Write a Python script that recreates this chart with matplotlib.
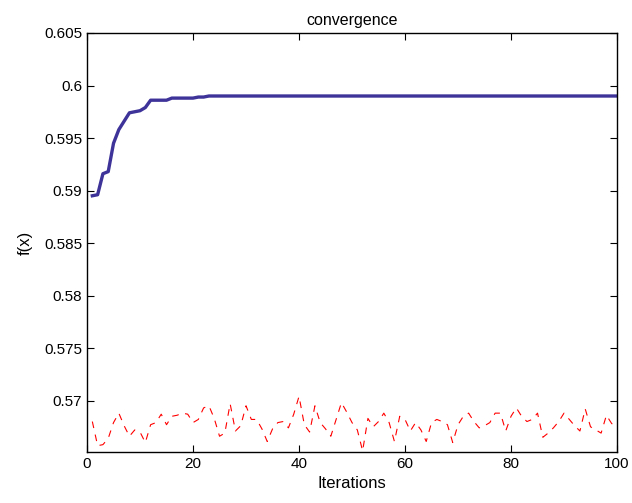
import numpy as np
import matplotlib
matplotlib.use('Agg')
import matplotlib.pyplot as plt

plt.rcParams['font.family'] = ['Liberation Sans', 'DejaVu Sans']

iterations = np.arange(1, 101)

# best f(x) found so far
best_head = [0.5895, 0.5896, 0.5916, 0.5918, 0.5945, 0.5958, 0.5966, 0.5974,
             0.5975, 0.5976, 0.5979, 0.5986, 0.5986, 0.5986, 0.5986, 0.5988,
             0.5988, 0.5988, 0.5988, 0.5988, 0.5989, 0.5989]
best_tail = [0.5990] * 78
best_fx = best_head + best_tail

# mean f(x) of the population per iteration
mean_fx = [0.5680, 0.5657, 0.5658, 0.5664, 0.5679, 0.5688, 0.5676, 0.5666, 0.5672, 0.5670,
           0.5660, 0.5677, 0.5679, 0.5687, 0.5677, 0.5685, 0.5686, 0.5688, 0.5687, 0.5679,
           0.5682, 0.5693, 0.5695, 0.5683, 0.5666, 0.5669, 0.5697, 0.5671, 0.5676, 0.5695,
           0.5682, 0.5682, 0.5673, 0.5661, 0.5673, 0.5679, 0.5680, 0.5674, 0.5687, 0.5704,
           0.5677, 0.5670, 0.5695, 0.5679, 0.5673, 0.5666, 0.5682, 0.5698, 0.5689, 0.5679,
           0.5672, 0.5652, 0.5683, 0.5675, 0.5680, 0.5688, 0.5679, 0.5661, 0.5685, 0.5682,
           0.5671, 0.5679, 0.5672, 0.5661, 0.5679, 0.5682, 0.5680, 0.5677, 0.5660, 0.5677,
           0.5685, 0.5688, 0.5680, 0.5674, 0.5676, 0.5679, 0.5688, 0.5688, 0.5671, 0.5685,
           0.5693, 0.5685, 0.5680, 0.5682, 0.5688, 0.5665, 0.5669, 0.5674, 0.5680, 0.5688,
           0.5682, 0.5676, 0.5671, 0.5692, 0.5675, 0.5672, 0.5669, 0.5686, 0.5678, 0.5676]

fig = plt.figure(figsize=(6.32, 5.03), dpi=100)
ax = fig.add_axes([0.1377, 0.1014, 0.8386, 0.8330])

ax.plot(iterations, mean_fx, color='red', lw=0.8, linestyle=(0, (6, 6)))
ax.plot(iterations, best_fx, color='#3d3399', lw=2.4)

ax.set_xlim(0, 100)
ax.set_ylim(min(mean_fx) - 0.0001, 0.605)
ax.set_xticks([0, 20, 40, 60, 80, 100])
ax.set_yticks([0.57, 0.575, 0.58, 0.585, 0.59, 0.595, 0.6, 0.605])
ax.set_yticklabels(['0.57', '0.575', '0.58', '0.585', '0.59', '0.595', '0.6', '0.605'])
ax.tick_params(direction='in', top=True, right=True, length=5, width=0.8,
               labelsize=11)
for s in ax.spines.values():
    s.set_linewidth(1.0)

ax.set_title('convergence', fontsize=11.5, pad=6)
ax.set_xlabel('Iterations', fontsize=12, labelpad=4)
ax.set_ylabel('f(x)', fontsize=12, labelpad=8)

fig.savefig('out.png', dpi=100)
